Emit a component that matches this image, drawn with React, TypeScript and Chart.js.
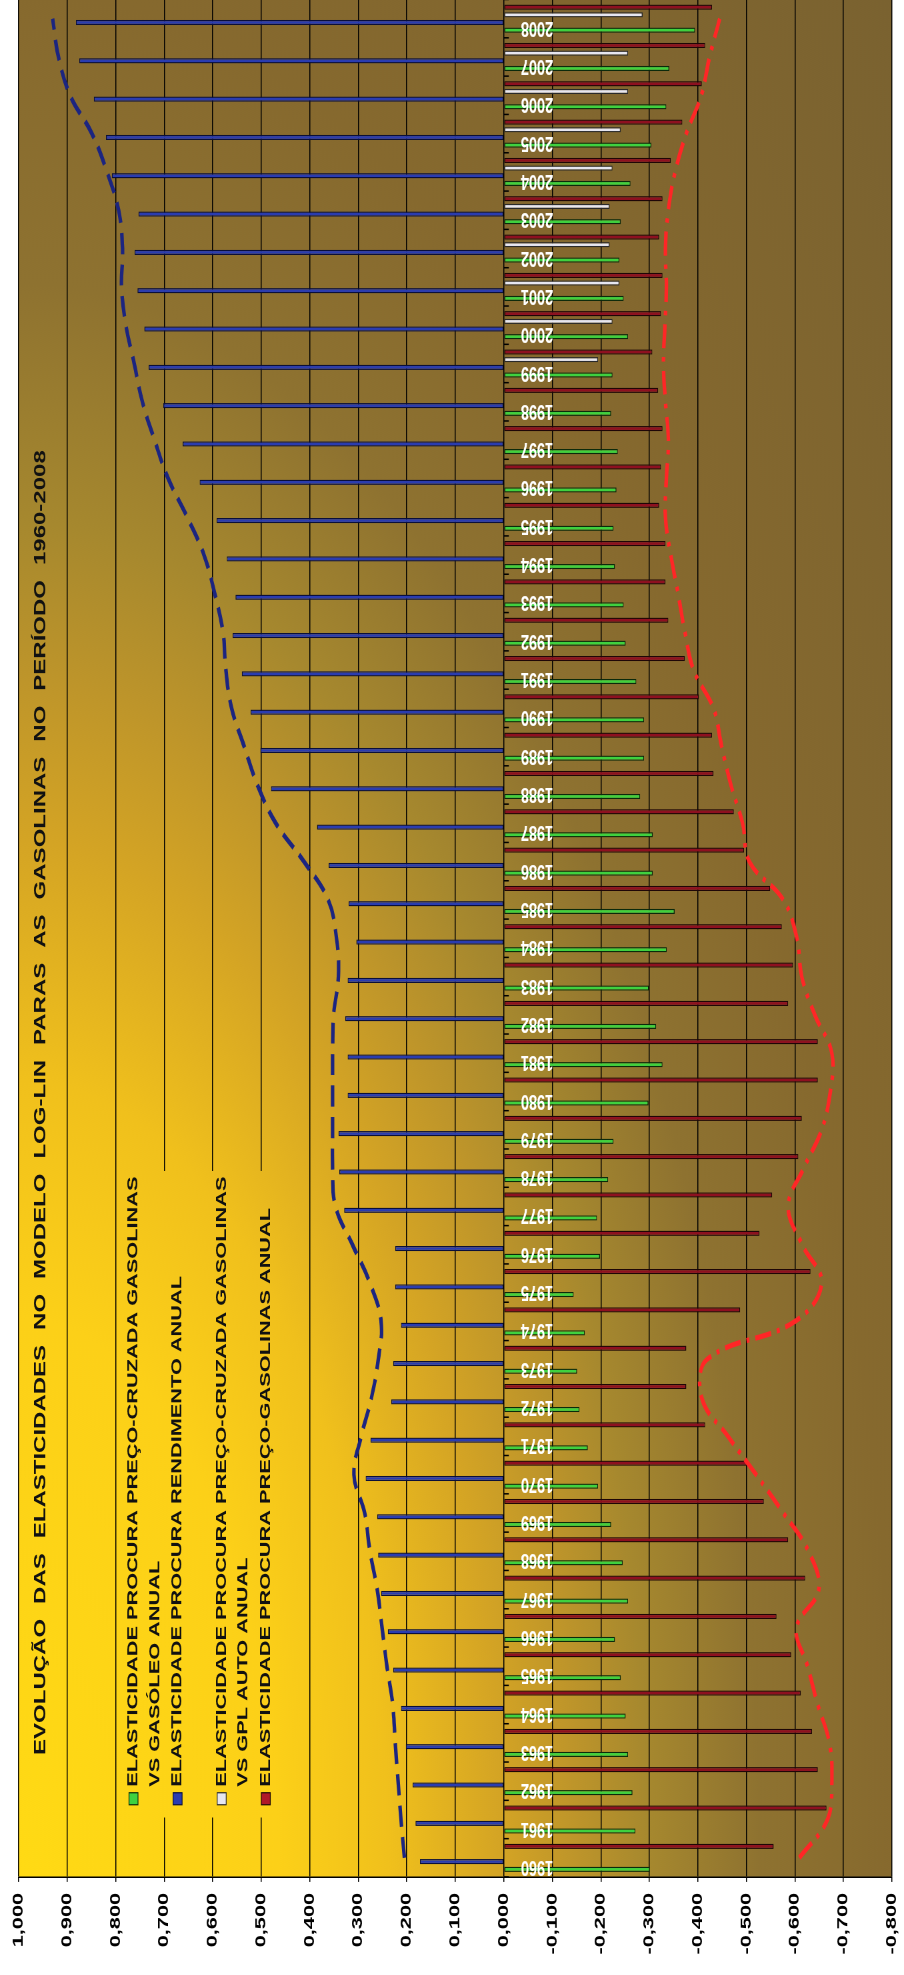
import { useEffect, useRef } from 'react';
import { Chart, registerables } from 'chart.js';

Chart.register(...registerables);

// ---- data -------------------------------------------------------------
const years = [
  '1960', '1961', '1962', '1963', '1964', '1965', '1966', '1967', '1968', '1969',
  '1970', '1971', '1972', '1973', '1974', '1975', '1976', '1977', '1978', '1979',
  '1980', '1981', '1982', '1983', '1984', '1985', '1986', '1987', '1988', '1989',
  '1990', '1991', '1992', '1993', '1994', '1995', '1996', '1997', '1998', '1999',
  '2000', '2001', '2002', '2003', '2004', '2005', '2006', '2007', '2008',
];

// cross-price elasticity, gasoline vs diesel
const crossDiesel = [
  -0.301, -0.271, -0.265, -0.256, -0.251, -0.241, -0.229, -0.256, -0.245, -0.221,
  -0.194, -0.173, -0.156, -0.151, -0.167, -0.144, -0.198, -0.192, -0.215, -0.226,
  -0.298, -0.327, -0.314, -0.299, -0.336, -0.352, -0.307, -0.307, -0.281, -0.289,
  -0.289, -0.273, -0.251, -0.247, -0.229, -0.226, -0.232, -0.235, -0.221, -0.224,
  -0.256, -0.247, -0.238, -0.241, -0.261, -0.304, -0.335, -0.341, -0.394,
];

// income elasticity
const income = [
  0.173, 0.182, 0.188, 0.202, 0.212, 0.228, 0.239, 0.253, 0.259, 0.261,
  0.285, 0.275, 0.232, 0.228, 0.212, 0.224, 0.224, 0.329, 0.339, 0.341,
  0.322, 0.322, 0.327, 0.322, 0.304, 0.32, 0.361, 0.385, 0.48, 0.502,
  0.522, 0.54, 0.559, 0.553, 0.571, 0.592, 0.627, 0.662, 0.702, 0.732,
  0.741, 0.755, 0.761, 0.753, 0.808, 0.82, 0.845, 0.875, 0.882,
];

// cross-price elasticity, gasoline vs LPG (only from 1999)
const lpgYears = ['1999', '2000', '2001', '2002', '2003', '2004', '2005', '2006', '2007', '2008'];
const lpgValues = [-0.194, -0.224, -0.238, -0.218, -0.218, -0.224, -0.241, -0.256, -0.256, -0.286];

// own-price elasticity of gasoline
const ownPrice = [
  -0.556, -0.665, -0.647, -0.635, -0.612, -0.592, -0.562, -0.621, -0.586, -0.536,
  -0.502, -0.415, -0.376, -0.376, -0.487, -0.632, -0.527, -0.553, -0.607, -0.614,
  -0.647, -0.647, -0.586, -0.596, -0.573, -0.549, -0.495, -0.474, -0.432, -0.429,
  -0.402, -0.373, -0.339, -0.333, -0.333, -0.32, -0.324, -0.327, -0.318, -0.306,
  -0.324, -0.327, -0.32, -0.327, -0.344, -0.368, -0.408, -0.415, -0.429,
];

// smoothed trend of the income elasticity
const incomeTrend = [
  0.205, 0.212, 0.218, 0.224, 0.229, 0.241, 0.251, 0.261, 0.276, 0.287,
  0.309, 0.294, 0.273, 0.259, 0.253, 0.276, 0.312, 0.347, 0.353, 0.353,
  0.353, 0.353, 0.351, 0.341, 0.345, 0.362, 0.412, 0.47, 0.508, 0.535,
  0.561, 0.573, 0.579, 0.596, 0.618, 0.653, 0.692, 0.72, 0.745, 0.762,
  0.779, 0.788, 0.786, 0.794, 0.818, 0.849, 0.894, 0.918, 0.93,
];

// smoothed trend of the own-price elasticity
const ownPriceTrend = [
  -0.609, -0.667, -0.676, -0.671, -0.647, -0.626, -0.603, -0.649, -0.628, -0.576,
  -0.52, -0.462, -0.408, -0.418, -0.6, -0.655, -0.615, -0.586, -0.618, -0.655,
  -0.673, -0.676, -0.641, -0.614, -0.604, -0.576, -0.506, -0.492, -0.468, -0.449,
  -0.432, -0.391, -0.373, -0.359, -0.344, -0.333, -0.335, -0.339, -0.333, -0.329,
  -0.332, -0.335, -0.333, -0.339, -0.353, -0.376, -0.407, -0.424, -0.445,
];

const yTicks = { min: -0.8, max: 1.0, step: 0.1 };

const titleText =
  'EVOLUÇÃO DAS ELASTICIDADES NO MODELO LOG-LIN PARAS AS GASOLINAS NO PERÍODO 1960-2008';

const nameCrossDiesel = ['ELASTICIDADE PROCURA PREÇO-CRUZADA GASOLINAS', 'VS GASÓLEO ANUAL'];
const nameIncome = ['ELASTICIDADE PROCURA RENDIMENTO ANUAL'];
const nameCrossLpg = ['ELASTICIDADE PROCURA PREÇO-CRUZADA GASOLINAS', 'VS GPL AUTO ANUAL'];
const nameOwnPrice = ['ELASTICIDADE PROCURA PREÇO-GASOLINAS ANUAL'];

// ---- styling ----------------------------------------------------------
const FONT = '"Liberation Sans", Arial, Helvetica, sans-serif';
const CANVAS_W = 1317;
const CANVAS_H = 908;
const STRETCH = 1975 / CANVAS_W;

const COLORS = {
  green: '#3FD13F',
  greenEdge: '#0B2A0B',
  blue: '#2A3CB0',
  blueEdge: '#0A0F3A',
  gray: '#E6E6F0',
  grayEdge: '#2A2A2A',
  red: '#8E1020',
  redEdge: '#1E0606',
  redSwatch: '#B01828',
  blueTrend: '#1C2580',
  redTrend: '#FF2626',
};

// corner-radial shading of the plot area (offsets are distance / sqrt(2))
const backdropStops: [number, string][] = [
  [0, '#FFDA14'],
  [0.21, '#FCD018'],
  [0.3, '#F0C01C'],
  [0.39, '#D4A424'],
  [0.45, '#BE952A'],
  [0.51, '#A6882E'],
  [0.6, '#8E7230'],
  [0.71, '#86692E'],
  [1, '#7A6230'],
];

// fills a sub-rectangle of the plot with the plot-area shading
function paintBackdrop(chart: any, x: number, y: number, w: number, h: number) {
  const { ctx, chartArea: a } = chart;
  const W = a.right - a.left;
  const H = a.bottom - a.top;
  ctx.save();
  ctx.translate(a.left, a.top);
  ctx.scale(W, H);
  const g = ctx.createRadialGradient(0, 0, 0, 0, 0, Math.SQRT2);
  backdropStops.forEach(([o, c]) => g.addColorStop(o, c));
  ctx.fillStyle = g;
  ctx.fillRect((x - a.left) / W, (y - a.top) / H, w / W, h / H);
  ctx.restore();
}

const decorPlugin = {
  id: 'decor',
  beforeDraw(chart: any) {
    const { ctx, chartArea: a } = chart;
    ctx.save();
    ctx.fillStyle = '#ffffff';
    ctx.fillRect(0, 0, chart.width, chart.height);
    ctx.restore();
    paintBackdrop(chart, a.left, a.top, a.right - a.left, a.bottom - a.top);
  },
  afterDatasetsDraw(chart: any) {
    const { ctx, chartArea: a } = chart;
    const xs = chart.scales.x;
    const ys = chart.scales.y;
    const y0 = ys.getPixelForValue(0);
    const cat = (a.right - a.left) / years.length;

    // small ticks on the zero line between categories
    ctx.save();
    ctx.strokeStyle = '#000';
    ctx.lineWidth = 1;
    ctx.beginPath();
    for (let k = 0; k <= years.length; k++) {
      const px = a.left + k * cat;
      ctx.moveTo(px, y0);
      ctx.lineTo(px, y0 + 5);
    }
    ctx.stroke();
    ctx.restore();

    // year labels, rotated, just below the zero line
    ctx.save();
    ctx.font = `bold 14.5px ${FONT}`;
    ctx.fillStyle = '#FFFFFF';
    ctx.textAlign = 'right';
    ctx.textBaseline = 'middle';
    years.forEach((yr, i) => {
      ctx.save();
      ctx.translate(xs.getPixelForValue(i) - 6, y0 + 17);
      ctx.rotate(-Math.PI / 2);
      ctx.fillText(yr, 0, 0);
      ctx.restore();
    });
    ctx.restore();

    // legend box
    paintBackdrop(chart, 105, 121, 431, 170);
    const entries = [
      { lines: nameCrossDiesel, fill: COLORS.green, edge: COLORS.greenEdge },
      { lines: nameIncome, fill: COLORS.blue, edge: COLORS.blueEdge },
      { lines: nameCrossLpg, fill: COLORS.gray, edge: COLORS.grayEdge },
      { lines: nameOwnPrice, fill: COLORS.redSwatch, edge: COLORS.redEdge },
    ];
    ctx.save();
    ctx.font = `bold 14.5px ${FONT}`;
    ctx.textAlign = 'left';
    ctx.textBaseline = 'middle';
    entries.forEach((e, i) => {
      const rowY = 133.5 + i * 44.1;
      ctx.fillStyle = e.fill;
      ctx.fillRect(113.5, rowY - 4.5, 8, 9);
      ctx.strokeStyle = e.edge;
      ctx.lineWidth = 0.8;
      ctx.strokeRect(113.5, rowY - 4.5, 8, 9);
      ctx.fillStyle = '#111';
      e.lines.forEach((ln, j) => ctx.fillText(ln, 125.5, rowY + j * 21.8));
    });
    ctx.restore();

    // title, set word by word with wide word spacing
    ctx.save();
    ctx.font = `bold 16px ${FONT}`;
    ctx.fillStyle = '#111';
    ctx.textAlign = 'left';
    ctx.textBaseline = 'middle';
    let tx = 146.7;
    titleText.split(' ').forEach((word) => {
      ctx.fillText(word, tx, 41);
      tx += ctx.measureText(word).width + 10;
    });
    ctx.restore();
  },
};

function fmtTick(v: number) {
  const n = Math.abs(v) < 1e-9 ? 0 : v;
  return n.toFixed(3).replace('.', ',');
}

export default function App() {
  const canvasRef = useRef<HTMLCanvasElement>(null);

  useEffect(() => {
    const canvas = canvasRef.current;
    if (!canvas) return;
    const lpgSeries = years.map((y) => {
      const k = lpgYears.indexOf(y);
      return k < 0 ? null : lpgValues[k];
    });

    const barCommon = {
      type: 'bar' as const,
      borderWidth: 0.9,
      borderSkipped: false,
      order: 1,
      categoryPercentage: 0.8,
      barPercentage: 0.68,
    };

    const chart = new Chart(canvas, {
      type: 'bar',
      data: {
        labels: years,
        datasets: [
          {
            ...barCommon,
            label: nameCrossDiesel.join(' '),
            data: crossDiesel,
            backgroundColor: COLORS.green,
            borderColor: COLORS.greenEdge,
          },
          {
            ...barCommon,
            label: nameIncome.join(' '),
            data: income,
            backgroundColor: COLORS.blue,
            borderColor: COLORS.blueEdge,
          },
          {
            ...barCommon,
            label: nameCrossLpg.join(' '),
            data: lpgSeries,
            backgroundColor: COLORS.gray,
            borderColor: COLORS.grayEdge,
          },
          {
            ...barCommon,
            label: nameOwnPrice.join(' '),
            data: ownPrice,
            backgroundColor: COLORS.red,
            borderColor: COLORS.redEdge,
          },
          {
            type: 'line',
            label: 'Tendência rendimento',
            data: incomeTrend,
            borderColor: COLORS.blueTrend,
            borderWidth: 3.5,
            borderDash: [14, 7],
            borderCapStyle: 'butt',
            pointRadius: 0,
            fill: false,
            tension: 0.4,
            order: 0,
          },
          {
            type: 'line',
            label: 'Tendência preço',
            data: ownPriceTrend,
            borderColor: COLORS.redTrend,
            borderWidth: 3.5,
            borderDash: [16, 6, 3, 6],
            borderCapStyle: 'butt',
            pointRadius: 0,
            fill: false,
            tension: 0.4,
            order: 0,
          },
        ] as any,
      },
      options: {
        animation: false,
        responsive: false,
        devicePixelRatio: 1.5,
        layout: { padding: { top: 18.7, bottom: 9, left: 0, right: 0 } },
        plugins: {
          legend: { display: false },
          tooltip: { enabled: false },
          title: { display: false },
        },
        scales: {
          x: {
            type: 'category',
            display: false,
            offset: true,
            grid: { display: false },
          },
          y: {
            min: yTicks.min,
            max: yTicks.max,
            afterFit: (scale: any) => {
              scale.width = 65.35;
            },
            ticks: {
              stepSize: yTicks.step,
              color: '#000',
              padding: 7.3,
              font: { family: FONT, size: 14.5, weight: 'bold' },
              callback: (v: any) => fmtTick(Number(v)),
            },
            grid: {
              color: '#000',
              lineWidth: 1,
              drawTicks: true,
              tickLength: 3.3,
              tickColor: '#000',
            },
            border: { display: true, color: '#000', width: 1 },
          },
        },
      } as any,
      plugins: [decorPlugin],
    });

    return () => chart.destroy();
  }, []);

  return (
    <div
      style={{
        position: 'absolute',
        left: 0,
        top: 0,
        width: 904,
        height: 1975,
        overflow: 'hidden',
        background: '#ffffff',
      }}
    >
      <div
        style={{
          position: 'absolute',
          left: 0,
          top: 0,
          width: CANVAS_W,
          height: CANVAS_H,
          transformOrigin: '0 0',
          transform: `translate(0px, 1975px) rotate(-90deg) scale(${STRETCH}, 1)`,
        }}
      >
        <canvas ref={canvasRef} width={CANVAS_W} height={CANVAS_H} />
      </div>
    </div>
  );
}
